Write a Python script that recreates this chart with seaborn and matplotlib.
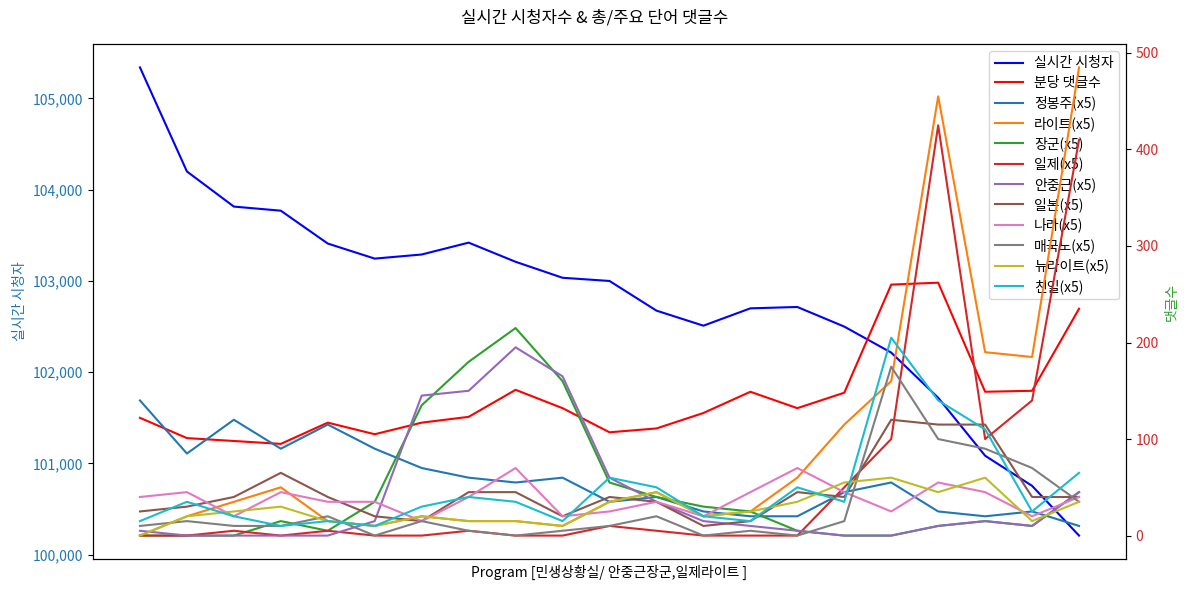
import matplotlib
matplotlib.use("Agg")
import matplotlib.pyplot as plt
import seaborn as sns
import pandas as pd
import numpy as np
from matplotlib.ticker import FuncFormatter, MultipleLocator

plt.rcParams['font.family'] = ['Noto Sans CJK KR', 'DejaVu Sans']
plt.rcParams['axes.unicode_minus'] = False

# ---- data ----
viewers = [105340, 104200, 103815, 103770, 103410, 103245, 103290, 103420, 103210, 103035,
           103000, 102675, 102510, 102700, 102715, 102500, 102215, 101720, 101085, 100755, 100210]
comments_per_min = [122, 101, 98, 95, 117, 105, 117, 123, 151, 132,
                    107, 111, 127, 149, 132, 148, 260, 262, 149, 150, 235]

word_names = ['정봉주', '라이트', '장군', '일제', '안중근', '일본', '나라', '매국노', '뉴라이트', '친일']
jeongbongju = [28, 17, 24, 18, 23, 18, 14, 12, 11, 12, 7, 8, 5, 4, 4, 9, 11, 5, 4, 5, 2]
right_w     = [0, 4, 7, 10, 3, 2, 4, 3, 3, 2, 7, 9, 4, 5, 12, 23, 32, 91, 38, 37, 97]
janggun     = [0, 0, 0, 3, 1, 7, 27, 36, 43, 32, 11, 8, 6, 5, 1, 0, 0, 2, 3, 2, 9]
ilje        = [0, 0, 1, 0, 1, 0, 0, 1, 0, 0, 2, 1, 0, 0, 0, 10, 20, 85, 20, 28, 82]
ahnjunggeun = [1, 0, 0, 0, 0, 3, 29, 30, 39, 33, 12, 7, 3, 2, 1, 0, 0, 2, 3, 2, 9]
ilbon       = [5, 6, 8, 13, 8, 4, 3, 9, 9, 4, 8, 7, 2, 3, 9, 8, 24, 23, 23, 8, 8]
nara        = [8, 9, 4, 9, 7, 7, 3, 8, 14, 4, 5, 7, 4, 9, 14, 9, 5, 11, 9, 4, 8]
maegukno    = [2, 3, 2, 2, 4, 0, 3, 1, 0, 1, 2, 4, 0, 1, 0, 3, 35, 20, 18, 14, 7]
newright    = [0, 4, 5, 6, 3, 2, 4, 3, 3, 2, 7, 9, 4, 5, 7, 11, 12, 9, 12, 3, 7]
chinil      = [3, 7, 4, 2, 3, 2, 6, 8, 7, 3, 12, 10, 4, 3, 10, 7, 41, 28, 22, 5, 13]
word_counts = [jeongbongju, right_w, janggun, ilje, ahnjunggeun, ilbon, nara, maegukno, newright, chinil]
scale = 5

title = '실시간 시청자수 & 총/주요 단어 댓글수'
xlabel = 'Program [민생상황실/ 안중근장군,일제라이트 ]'

# ---- plot ----
x = np.arange(len(viewers))
fig = plt.figure(figsize=(11.89, 5.93), dpi=100)
ax1 = fig.add_axes([93/1189, 1-559/593, (1126-93)/1189, (559-44)/593])
ax2 = ax1.twinx()

df_v = pd.DataFrame({'x': x, 'v': viewers})
sns.lineplot(data=df_v, x='x', y='v', ax=ax1, color='blue', label='실시간 시청자', linewidth=1.5)

df_c = pd.DataFrame({'x': x, 'c': comments_per_min})
sns.lineplot(data=df_c, x='x', y='c', ax=ax2, color='red', label='분당 댓글수', linewidth=1.5)

palette = sns.color_palette('tab10', 10)
for name, vals, col in zip(word_names, word_counts, palette):
    d = pd.DataFrame({'x': x, 'c': np.array(vals) * scale})
    sns.lineplot(data=d, x='x', y='c', ax=ax2, color=col, label=f'{name}(x5)', linewidth=1.5)

ax1.set_xticks([])
ax1.set_xlabel(xlabel, fontsize=10)
ax1.set_ylabel('실시간 시청자', color='tab:blue', fontsize=10)
ax1.tick_params(axis='y', labelcolor='tab:blue', labelsize=10)
ax1.yaxis.set_major_formatter(FuncFormatter(lambda v, p: f'{int(v):,}'))
ax1.yaxis.set_major_locator(MultipleLocator(1000))

ax2.set_ylabel('댓글수', color='tab:green', fontsize=10)
ax2.tick_params(axis='y', labelcolor='tab:red', labelsize=10)
ax2.yaxis.set_major_locator(MultipleLocator(100))
ax2.set_xticks([])
ax2.set_xlabel('')

h1, l1 = ax1.get_legend_handles_labels()
h2, l2 = ax2.get_legend_handles_labels()
if ax2.get_legend():
    ax2.get_legend().remove()
ax1.legend(h1 + h2, l1 + l2, loc='upper right', fontsize=10, labelspacing=0.4)

fig.suptitle(title, fontsize=12, y=1-18/593, va='center')

fig.savefig('out.png', dpi=100)
